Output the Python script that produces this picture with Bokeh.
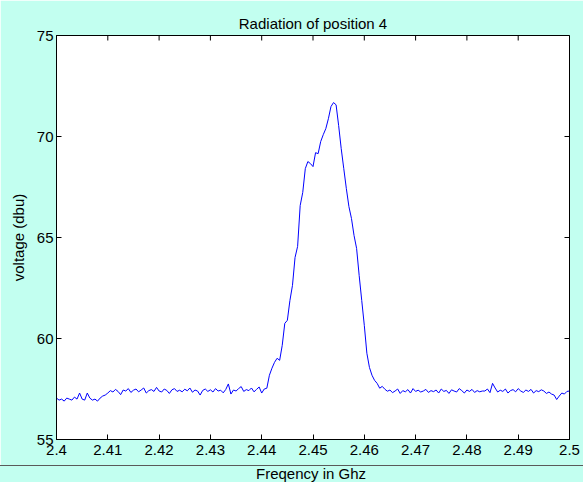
import numpy as np
from bokeh.plotting import figure
from bokeh.models import FixedTicker, Range1d, Div
from bokeh.layouts import column
from bokeh.embed import file_html
from bokeh.resources import INLINE

# ---------------- data ----------------
freq_start = 2.40
freq_step = 0.0005
voltage = [
    57.05, 56.95, 57.00, 56.90, 57.05, 57.00, 56.95, 57.10, 57.00, 57.30,
    57.00, 56.95, 57.30, 57.05, 56.95, 57.00, 56.90, 57.05, 57.15, 57.20,
    57.30, 57.42, 57.35, 57.48, 57.38, 57.22, 57.45, 57.40, 57.52, 57.33,
    57.44, 57.50, 57.36, 57.45, 57.55, 57.30, 57.42, 57.47, 57.38, 57.58,
    57.40, 57.35, 57.50, 57.43, 57.28, 57.46, 57.52, 57.38, 57.44, 57.36,
    57.49, 57.41, 57.55, 57.34, 57.45, 57.40, 57.20, 57.43, 57.50, 57.38,
    57.46, 57.35, 57.52, 57.40, 57.44, 57.31, 57.48, 57.75, 57.25, 57.45,
    57.40, 57.52, 57.62, 57.38, 57.47, 57.42, 57.55, 57.36, 57.48, 57.60,
    57.30, 57.50, 57.54, 58.18, 58.53, 58.82, 59.02, 58.92, 59.66, 60.75,
    60.90, 61.88, 62.63, 64.01, 64.56, 66.58, 67.23, 68.41, 68.76, 68.66,
    68.51, 69.20, 69.15, 69.75, 70.09, 70.39, 70.88, 71.48, 71.68, 71.57,
    70.54, 69.40, 68.41, 67.42, 66.53, 65.94, 65.10, 64.46, 63.12, 61.88,
    60.65, 59.27, 58.57, 58.18, 57.93, 57.78, 57.54, 57.63, 57.49, 57.39,
    57.45, 57.32, 57.40, 57.50, 57.28, 57.42, 57.36, 57.47, 57.30, 57.52,
    57.38, 57.44, 57.35, 57.40, 57.48, 57.33, 57.42, 57.37, 57.45, 57.30,
    57.50, 57.38, 57.43, 57.28, 57.46, 57.40, 57.35, 57.52, 57.42, 57.30,
    57.45, 57.38, 57.48, 57.33, 57.42, 57.36, 57.40, 57.40, 57.50, 57.32,
    57.78, 57.55, 57.35, 57.44, 57.38, 57.50, 57.30, 57.42, 57.47, 57.36,
    57.52, 57.40, 57.33, 57.45, 57.38, 57.48, 57.30, 57.42, 57.37, 57.46,
    57.40, 57.28, 57.35, 57.25, 57.20, 56.98, 57.15, 57.30, 57.25, 57.38,
    57.40,
]
freq = [round(freq_start + freq_step * i, 4) for i in range(len(voltage))]

x_ticks = [2.40, 2.41, 2.42, 2.43, 2.44, 2.45, 2.46, 2.47, 2.48, 2.49, 2.50]
x_tick_labels = ["2.4", "2.41", "2.42", "2.43", "2.44", "2.45", "2.46",
                 "2.47", "2.48", "2.49", "2.5"]
y_ticks = [55, 60, 65, 70, 75]
y_tick_labels = ["55", "60", "65", "70", "75"]

title_text = "Radiation of position 4"
x_label = "Freqency in Ghz"
y_label = "voltage (dbu)"

# ---------------- style ----------------
BG = "#c2fff0"
FONT = "Liberation Sans"
FS = "15px"
X0, X1 = 2.4, 2.5
Y0, Y1 = 55, 75
W = 583

p = figure(width=W, height=465,
           x_range=Range1d(X0, X1), y_range=Range1d(Y0, Y1),
           output_backend="svg", toolbar_location=None,
           min_border_left=56, min_border_right=14,
           min_border_top=35, min_border_bottom=26)
p.background_fill_color = "white"
p.border_fill_color = BG
p.outline_line_color = "black"
p.outline_line_width = 1
p.grid.visible = False

p.title.text = title_text
p.title.align = "center"
p.title.text_font = FONT
p.title.text_font_size = FS
p.title.text_font_style = "normal"
p.title.text_color = "black"
p.title.standoff = 8

p.line(freq, voltage, line_color="#0000ff", line_width=1)

# inward ticks on the top and right edges of the box (half clipped by the frame)
p.scatter(x=x_ticks, y=[Y1] * len(x_ticks), marker="dash", angle=np.pi / 2,
          size=10, line_color="black", line_width=1)
p.scatter(x=[X1] * len(y_ticks), y=y_ticks, marker="dash", angle=0,
          size=10, line_color="black", line_width=1)

bottom_ax = p.below[0]
left_ax = p.left[0]
bottom_ax.ticker = FixedTicker(ticks=x_ticks)
left_ax.ticker = FixedTicker(ticks=y_ticks)

for ax in [bottom_ax, left_ax]:
    ax.major_tick_in = 5
    ax.major_tick_out = 0
    ax.minor_tick_in = 0
    ax.minor_tick_out = 0
    ax.axis_line_color = "black"
    ax.axis_line_width = 1
    ax.major_tick_line_color = "black"
    ax.major_label_text_font = FONT
    ax.major_label_text_font_size = FS
    ax.major_label_text_color = "black"

bottom_ax.major_label_overrides = dict(zip(x_ticks, x_tick_labels))
bottom_ax.major_label_standoff = 5
left_ax.major_label_overrides = dict(zip(y_ticks, y_tick_labels))
left_ax.major_label_standoff = 3
left_ax.axis_label = y_label
left_ax.axis_label_text_font = FONT
left_ax.axis_label_text_font_size = FS
left_ax.axis_label_text_font_style = "normal"
left_ax.axis_label_text_color = "black"
left_ax.axis_label_standoff = 7

# bottom strip: separator line and the x label
xlab = Div(text=x_label, width=W, height=17,
           styles={"border-top": "1px solid #5a5a5a",
                   "background-color": BG,
                   "font-family": FONT,
                   "font-size": FS,
                   "color": "black",
                   "text-align": "center",
                   "line-height": "15px",
                   "padding-left": "39px",
                   "box-sizing": "border-box",
                   "margin": "0"})

layout = column(p, xlab, spacing=0)

open("out.html", "w").write(file_html(layout, INLINE, title="Radiation of position 4"))
